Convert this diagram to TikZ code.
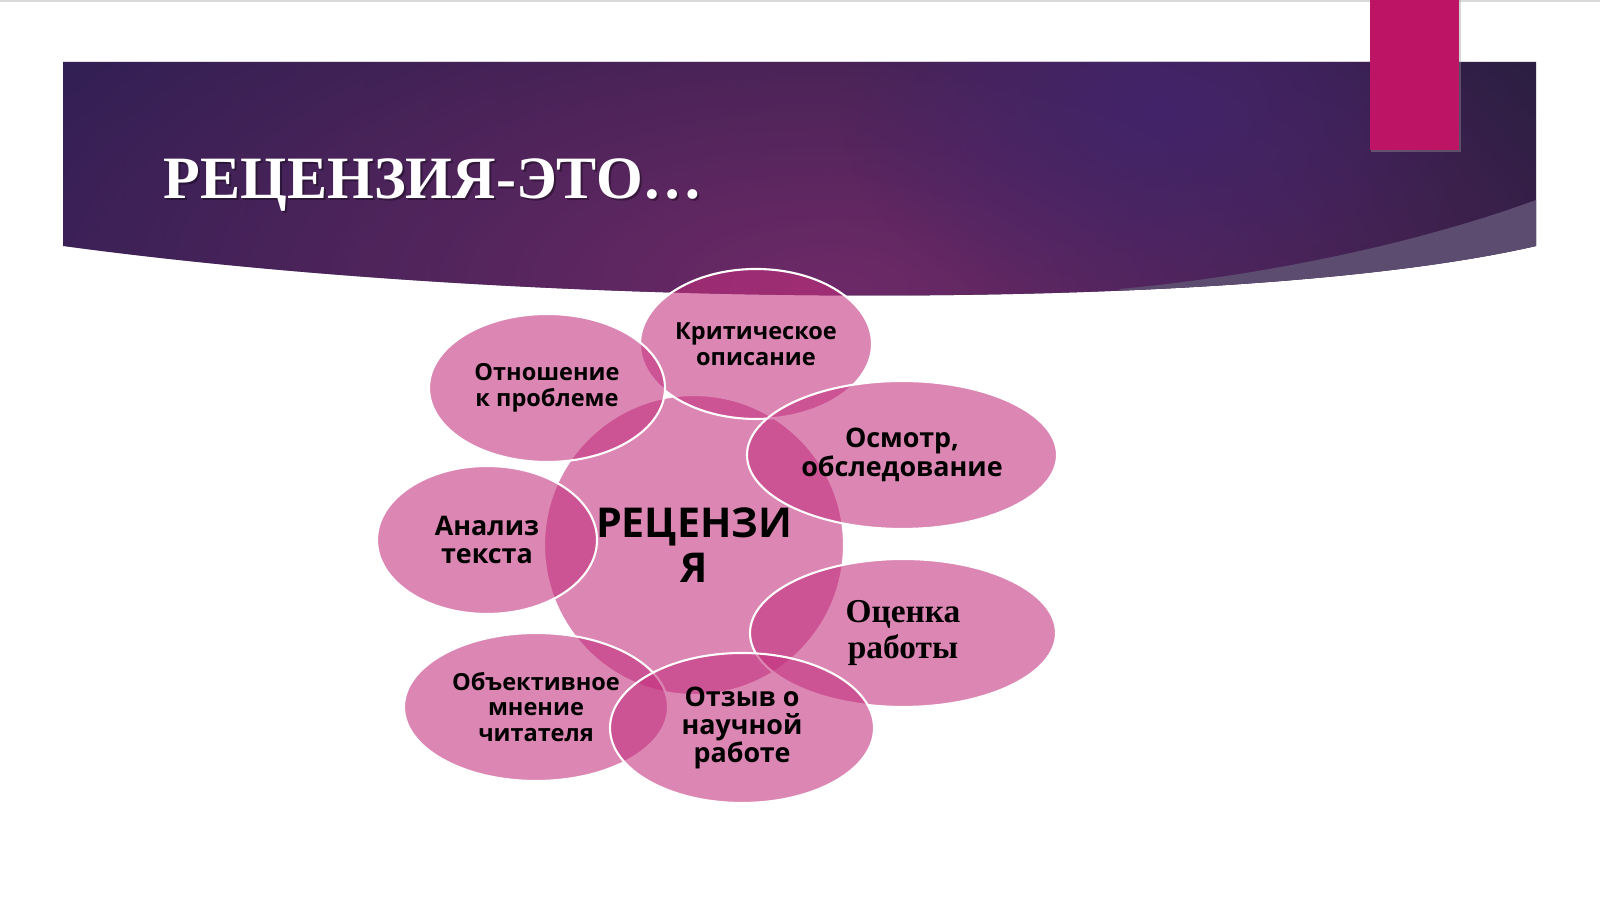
\documentclass[tikz,border=0pt]{standalone}
\usepackage{fontspec}
\setmainfont{Open Sans}
\newfontfamily\osans{Open Sans}
\newfontfamily\tserif{Liberation Serif}
\usetikzlibrary{shapes.geometric,fadings}
\definecolor{bubble}{RGB}{195,48,126}
\definecolor{banL}{RGB}{44,30,82}
\definecolor{banM}{RGB}{72,34,88}
\definecolor{banR}{RGB}{32,28,60}
\definecolor{banGlow}{RGB}{110,42,104}
\definecolor{banBlue}{RGB}{66,36,106}
\definecolor{wedge}{RGB}{92,76,112}
\definecolor{accent}{RGB}{189,20,102}
\tikzfading[name=glowfade, inner color=transparent!0, outer color=transparent!100]
\tikzset{
  bub/.style={ellipse, fill=bubble, fill opacity=0.58, draw=white, line width=0.6pt, inner sep=0pt},
  lblS/.style={align=center, text=black, font=\osans\bfseries\fontsize{6.7}{7.3}\selectfont},
  lblM/.style={align=center, text=black, font=\osans\bfseries\fontsize{7.65}{8.1}\selectfont},
  lblC/.style={align=center, text=black, font=\osans\bfseries\fontsize{11.7}{12.8}\selectfont},
  lblT/.style={align=center, text=black, font=\tserif\bfseries\fontsize{9.5}{10.2}\selectfont},
  ttl/.style={anchor=base west, inner sep=0pt, font=\tserif\bfseries\fontsize{17.1}{20}\selectfont},
}
\begin{document}
\begin{tikzpicture}
\useasboundingbox (0,0) rectangle (16,8.99);
\fill[white] (0,0) rectangle (16,8.99);
\fill[black!15] (0,8.97) rectangle (16,8.99);
% banner
\begin{scope}
  \clip (0.63,8.37) -- (15.36,8.37) -- (15.36,6.53)
  .. controls (12.5,5.87) and (5.5,5.87) .. (0.63,6.53) -- cycle;
  \shade[left color=banL, middle color=banM, right color=banR] (0.6,5.8) rectangle (15.4,8.4);
  \fill[banGlow, path fading=glowfade] (8.3,6.1) ellipse (10 and 4.6);
  \fill[banBlue, path fading=glowfade] (11.6,7.9) ellipse (3.2 and 2.2);
  \fill[wedge] (11.2,6.1) .. controls (12.8,6.25) and (14.3,6.6) .. (15.36,6.99)
    -- (15.6,6.99) -- (15.6,5.5) -- (11.2,5.5) -- cycle;
\end{scope}
% accent bar
\fill[black!40, opacity=0.4] (13.71,7.47) rectangle (14.61,8.99);
\fill[accent] (13.70,7.49) rectangle (14.59,8.99);
% title
\node[ttl, text=black, opacity=0.35] (titleshadow) at (1.65,6.98) {РЕЦЕНЗИЯ-ЭТО…};
\node[ttl, text=white] (title) at (1.63,7.00) {РЕЦЕНЗИЯ-ЭТО…};
% bubbles
\node[bub, minimum width=3.00cm, minimum height=3.00cm] (ec) at (6.94,3.54) {};
\node[bub, minimum width=2.32cm, minimum height=1.50cm] (e1) at (7.56,5.55) {};
\node[bub, minimum width=2.36cm, minimum height=1.48cm] (e2) at (5.47,5.11) {};
\node[bub, minimum width=3.10cm, minimum height=1.48cm] (e3) at (9.02,4.44) {};
\node[bub, minimum width=2.20cm, minimum height=1.48cm] (e4) at (4.87,3.59) {};
\node[bub, minimum width=3.06cm, minimum height=1.48cm] (e5) at (9.03,2.66) {};
\node[bub, minimum width=2.64cm, minimum height=1.48cm] (e6) at (5.36,1.92) {};
\node[bub, minimum width=2.64cm, minimum height=1.50cm] (e7) at (7.42,1.71) {};
% labels
\node[lblC] (tc) at (ec.center) {РЕЦЕНЗИ\\Я};
\node[lblS] (t1) at (e1.center) {Критическое\\описание};
\node[lblS] (t2) at (e2.center) {Отношение\\к проблеме};
\node[lblM] (t3) at (e3.center) {Осмотр,\\обследование};
\node[lblM] (t4) at (e4.center) {Анализ\\текста};
\node[lblT] (t5) at (e5.center) {Оценка\\работы};
\node[lblS] (t6) at (e6.center) {Объективное\\мнение\\читателя};
\node[lblM] (t7) at (e7.center) {Отзыв о\\научной\\работе};
\end{tikzpicture}
\end{document}
